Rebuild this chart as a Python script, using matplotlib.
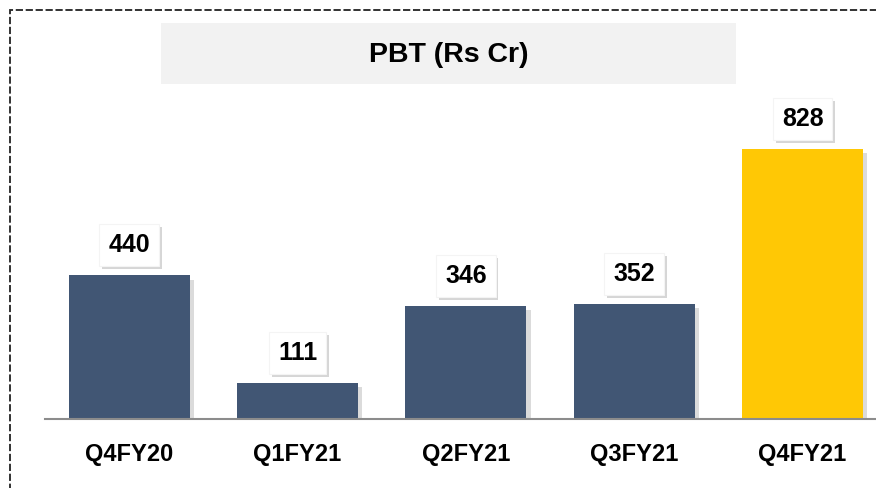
import matplotlib
matplotlib.use("Agg")
import matplotlib.pyplot as plt
import matplotlib.patheffects as pe
from matplotlib.patches import Rectangle

quarters = ["Q4FY20", "Q1FY21", "Q2FY21", "Q3FY21", "Q4FY21"]
pbt = [440, 111, 346, 352, 828]
colors = ["#415674", "#415674", "#415674", "#415674", "#FFC805"]

plt.rcParams['font.family'] = ['Liberation Sans', 'DejaVu Sans']

W, H = 876, 488
fig = plt.figure(figsize=(W / 100, H / 100), dpi=100)

# dashed frame round the slide (right and bottom edges run off the picture)
fig.patches.append(Rectangle((10 / W, -0.05), 1.05, 1 - 10 / H + 0.05,
                             transform=fig.transFigure, fill=False,
                             ec="#222222", lw=1.3, ls=(0, (4, 1.5))))

# title box
fig.patches.append(Rectangle((161 / W, 1 - 84 / H), (736 - 161) / W, 61 / H,
                             transform=fig.transFigure, fc="#f2f2f2", ec="none"))
fig.text(448.5 / W, 1 - 55 / H, "PBT (Rs Cr)", ha="center", va="center",
         fontsize=20.5, fontweight="bold", color="black")

ax = fig.add_axes([45 / W, 1 - 419 / H, (W - 45) / W, 319 / H])
x = list(range(len(quarters)))
bars = ax.bar(x, pbt, width=0.72, color=colors, zorder=2)
for b in bars:
    b.set_path_effects([pe.SimplePatchShadow(offset=(3, -3), shadow_rgbFace="#888888", alpha=0.3),
                        pe.Normal()])

for xi, v in zip(x, pbt):
    t = ax.annotate(str(v), (xi, v), xytext=(0, 13), textcoords="offset points",
                    ha="center", va="bottom", fontsize=18, fontweight="bold",
                    bbox=dict(boxstyle="square,pad=0.36", fc="white", ec="#f4f4f4", lw=0.8),
                    zorder=3)
    t.get_bbox_patch().set_path_effects([pe.SimplePatchShadow(offset=(2, -2), shadow_rgbFace="#999999", alpha=0.4),
                                         pe.Normal()])

ax.set_xlim(-0.5, 4.436)
ax.set_ylim(0, 978)
ax.set_xticks(x)
ax.set_xticklabels(quarters, fontsize=17, fontweight="bold")
ax.tick_params(axis="x", length=0, pad=17)
ax.set_yticks([])
for s in ["top", "right", "left"]:
    ax.spines[s].set_visible(False)
ax.spines["bottom"].set_color("#8c8c8c")
ax.spines["bottom"].set_linewidth(1.5)
ax.patch.set_alpha(0)

fig.savefig("out.png", dpi=100)
